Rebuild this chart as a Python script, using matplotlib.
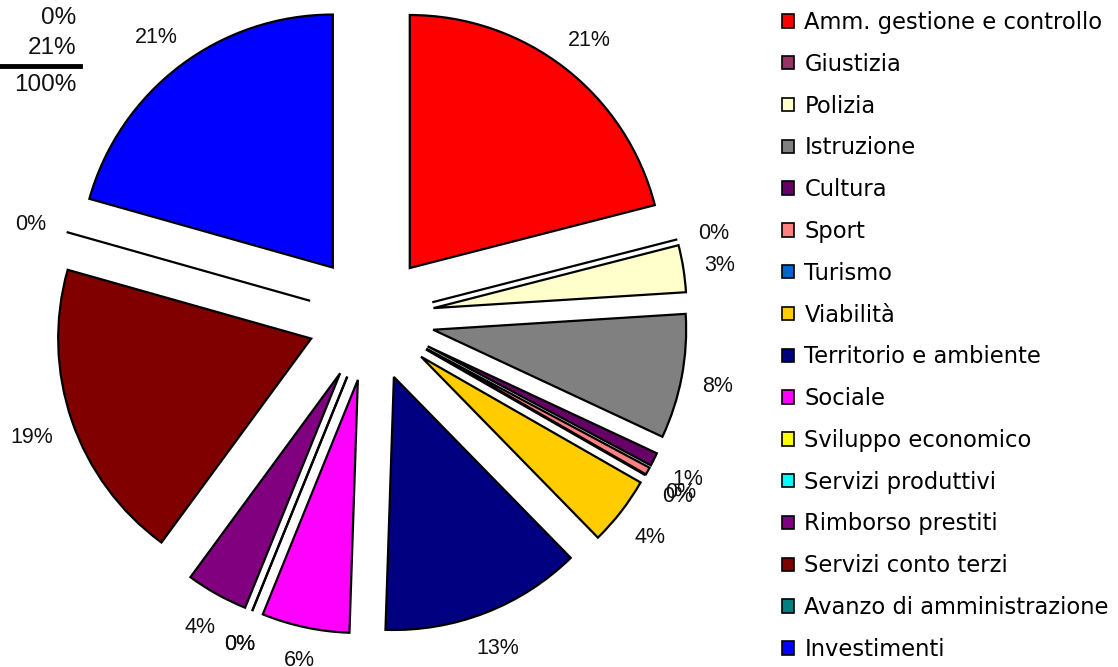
import numpy as np
import matplotlib
matplotlib.use("Agg")
import matplotlib.pyplot as plt
from matplotlib.patches import Patch
from matplotlib.lines import Line2D

categories = ["Amm. gestione e controllo", "Giustizia", "Polizia", "Istruzione",
              "Cultura", "Sport", "Turismo", "Viabilità", "Territorio e ambiente",
              "Sociale", "Sviluppo economico", "Servizi produttivi",
              "Rimborso prestiti", "Servizi conto terzi",
              "Avanzo di amministrazione", "Investimenti"]
values = [21.0, 0.0, 3.0, 7.95, 0.85, 0.48, 0.0, 4.4, 12.85, 5.6, 0.0, 0.0,
          3.95, 19.3, 0.0, 20.62]
colors = ["#FF0000", "#993366", "#FFFFCC", "#808080", "#660066", "#FF8080",
          "#0066CC", "#FFCC00", "#000080", "#FF00FF", "#FFFF00", "#00FFFF",
          "#800080", "#800000", "#008080", "#0000FF"]
corner_texts = ["0%", "21%", "100%"]

W, H = 1118, 667
fig = plt.figure(figsize=(W / 100, H / 100), dpi=100)
ax = fig.add_axes([0, 0, 1, 1])

R = 253
cx, cy = 371, H - 318
wedges, texts, autotexts = ax.pie(
    values, colors=colors, explode=[0.25 * R] * len(values),
    startangle=90, counterclock=False, radius=R, center=(cx, cy),
    autopct='%1.0f%%', pctdistance=1.15,
    wedgeprops=dict(edgecolor="black", linewidth=1.6),
    textprops=dict(fontsize=15.5, family="Liberation Sans", color="#111111"))
ax.set_xlim(0, W)
ax.set_ylim(0, H)
ax.set_aspect('equal')
ax.axis('off')

# place percentage labels "outside end": text box just beyond the arc
renderer = fig.canvas.get_renderer()
for w, t in zip(wedges, autotexts):
    th = np.deg2rad((w.theta1 + w.theta2) / 2)
    bb = t.get_window_extent(renderer)
    hw, hh = bb.width / 2, bb.height * 0.36
    d = 1.08 * R + abs(np.cos(th)) * hw + abs(np.sin(th)) * hh
    x0, y0 = w.center
    t.set_position((x0 + d * np.cos(th), y0 + d * np.sin(th) - 3))

handles = [Patch(facecolor=c, edgecolor="black", linewidth=1.2) for c in colors]
fig.legend(handles, categories, loc="upper left", bbox_to_anchor=(782 / W, 1 - 11 / H),
           frameon=False, prop=dict(family="DejaVu Sans", size=16.3),
           handlelength=0.53, handleheight=0.53, handletextpad=0.46,
           labelspacing=0.83, borderaxespad=0, borderpad=0)

# clipped fragment in the top-left corner
fig.text(76 / W, 1 - 18 / H, corner_texts[0], ha="right", va="center",
         fontsize=17.5, family="Liberation Sans", color="#111111")
fig.text(76 / W, 1 - 48 / H, corner_texts[1], ha="right", va="center",
         fontsize=17.5, family="Liberation Sans", color="#111111")
fig.add_artist(Line2D([0, 80 / W], [1 - 66 / H, 1 - 66 / H], color="black",
                      linewidth=3.5, transform=fig.transFigure))
fig.text(76 / W, 1 - 85 / H, corner_texts[2], ha="right", va="center",
         fontsize=17.5, family="Liberation Sans", color="#111111")

fig.savefig("out.png", dpi=100)
